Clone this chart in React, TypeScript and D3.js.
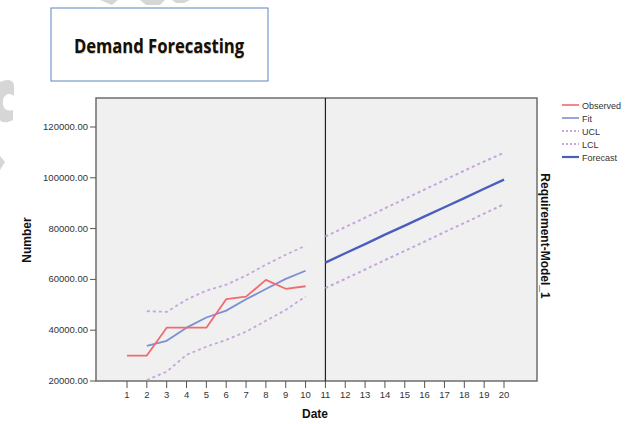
import React from 'react'
import * as d3 from 'd3'

// periods
const periods = d3.range(1, 21)
const histPeriods = [1, 2, 3, 4, 5, 6, 7, 8, 9, 10]
const fcPeriods = [11, 12, 13, 14, 15, 16, 17, 18, 19, 20]

const observed = [30000, 30000, 41000, 41000, 41000, 52200, 53200, 59800, 56300, 57300]
// fit / limits start at period 2
const fit = [null, 33800, 35800, 41000, 45000, 47700, 52200, 56200, 60200, 63400]
const ucl = [null, 47500, 47200, 52000, 55600, 57900, 61500, 65800, 69700, 73300]
const lcl = [null, 20400, 23700, 30300, 33500, 36200, 39400, 43700, 48000, 53300]

const forecast = [66600, 70300, 73900, 77600, 81200, 84800, 88400, 92000, 95700, 99300]
const fcUcl = [76900, 80600, 84300, 88000, 91700, 95400, 99100, 102800, 106400, 109900]
const fcLcl = [56600, 60200, 63900, 67600, 71200, 74900, 78600, 82200, 85900, 89600]

const yTicks = [20000, 40000, 60000, 80000, 100000, 120000]

const legendItems = [
  { name: 'Observed', color: '#f06b70', dash: null, width: 1.6 },
  { name: 'Fit', color: '#7d8fd2', dash: null, width: 1.6 },
  { name: 'UCL', color: '#c4a6dc', dash: '2 2', width: 1.8 },
  { name: 'LCL', color: '#c4a6dc', dash: '2 2', width: 1.8 },
  { name: 'Forecast', color: '#4a5ebd', dash: null, width: 2.2 }
]

const plot = { left: 96, right: 537, top: 98, bottom: 381 }

const x = d3.scaleLinear().domain([1, 20]).range([127, 504])
const y = d3.scaleLinear().domain([20000, 120000]).range([381, 127])

const makePath = (xs: number[], ys: (number | null)[]) => {
  const pts = xs.map((p, i) => [p, ys[i]] as [number, number | null])
  return d3
    .line<[number, number | null]>()
    .defined((d) => d[1] !== null)
    .x((d) => x(d[0]))
    .y((d) => y(d[1] as number))(pts) || ''
}

const fmt = (v: number) => v.toFixed(2)

const App = () => {
  const font = 'Arial, "Liberation Sans", sans-serif'
  return (
    <svg
      width={640}
      height={424}
      style={{ position: 'absolute', left: 0, top: 0, background: '#fff' }}
      fontFamily={font}
    >
      {/* watermark remnants */}
      <g fill="#d6d6d6">
        <path d="M0,82 C8,78 14,80 14,86 L14,96 C10,92 4,94 3,100 C2,108 6,112 13,110 L13,120 C6,124 0,122 0,120 Z" />
        <path d="M0,156 L5,162 L0,170 Z" />
        <path d="M100,0 L118,0 L112,5 Z" />
        <path d="M140,0 L165,0 L160,5 L146,5 Z" />
        <path d="M172,0 L190,0 L184,3 L176,3 Z" />
      </g>

      {/* title box */}
      <rect x={51} y={8} width={217} height={73} fill="#fff" stroke="#5b87c0" strokeWidth={1} />
      <text
        x={159}
        y={53}
        textAnchor="middle"
        fontFamily='"Open Sans", "Liberation Sans Narrow", sans-serif'
        fontWeight={700}
        fontSize={20}
        textLength={170}
        lengthAdjust="spacingAndGlyphs"
        fill="#111"
        style={{ textShadow: '0.6px 0.6px 0 rgba(214,150,60,0.6)' }}
      >
        Demand Forecasting
      </text>

      {/* plot area */}
      <rect
        x={plot.left}
        y={plot.top}
        width={plot.right - plot.left}
        height={plot.bottom - plot.top}
        fill="#f0f0f0"
        stroke="#6e6e6e"
        strokeWidth={1.5}
      />

      {/* y axis ticks */}
      <g>
        {yTicks.map((t) => (
          <g key={t}>
            <line x1={plot.left - 6} x2={plot.left} y1={y(t)} y2={y(t)} stroke="#555" />
            <text x={plot.left - 8} y={y(t) + 3} textAnchor="end" fontSize={9.5} fill="#333">
              {fmt(t)}
            </text>
          </g>
        ))}
      </g>

      {/* x axis ticks */}
      <g>
        {periods.map((p) => (
          <g key={p}>
            <line x1={x(p)} x2={x(p)} y1={plot.bottom} y2={plot.bottom + 7} stroke="#555" />
            <text x={x(p)} y={plot.bottom + 17} textAnchor="middle" fontSize={9.5} fill="#333">
              {p}
            </text>
          </g>
        ))}
      </g>

      {/* history/forecast separator */}
      <line x1={x(11)} x2={x(11)} y1={plot.top} y2={plot.bottom} stroke="#222" strokeWidth={1.2} />

      {/* series */}
      <g fill="none" strokeLinejoin="round">
        <path d={makePath(histPeriods, ucl)} stroke="#c4a6dc" strokeWidth={1.8} strokeDasharray="3 3" />
        <path d={makePath(histPeriods, lcl)} stroke="#c4a6dc" strokeWidth={1.8} strokeDasharray="3 3" />
        <path d={makePath(histPeriods, fit)} stroke="#7d8fd2" strokeWidth={1.8} />
        <path d={makePath(histPeriods, observed)} stroke="#f06b70" strokeWidth={1.8} />
        <path d={makePath(fcPeriods, fcUcl)} stroke="#c4a6dc" strokeWidth={2} strokeDasharray="3 3" />
        <path d={makePath(fcPeriods, fcLcl)} stroke="#c4a6dc" strokeWidth={2} strokeDasharray="3 3" />
        <path d={makePath(fcPeriods, forecast)} stroke="#4a5ebd" strokeWidth={2.4} />
      </g>

      {/* axis titles */}
      <text x={315} y={418} textAnchor="middle" fontSize={12} fontWeight="bold" fill="#111">
        Date
      </text>
      <text
        transform="translate(31,240) rotate(-90)"
        textAnchor="middle"
        fontSize={12}
        fontWeight="bold"
        fill="#111"
      >
        Number
      </text>
      <text
        transform="translate(541,236) rotate(90)"
        textAnchor="middle"
        fontSize={12}
        fontWeight="bold"
        fill="#111"
      >
        Requirement-Model_1
      </text>

      {/* legend */}
      <g>
        {legendItems.map((d, i) => (
          <g key={d.name} transform={`translate(562, ${105 + i * 13})`}>
            <line x1={0} x2={17} y1={0} y2={0} stroke={d.color} strokeWidth={d.width} strokeDasharray={d.dash || undefined} />
            <text x={20} y={3.5} fontSize={9} fill="#333">
              {d.name}
            </text>
          </g>
        ))}
      </g>
    </svg>
  )
}

export default App
